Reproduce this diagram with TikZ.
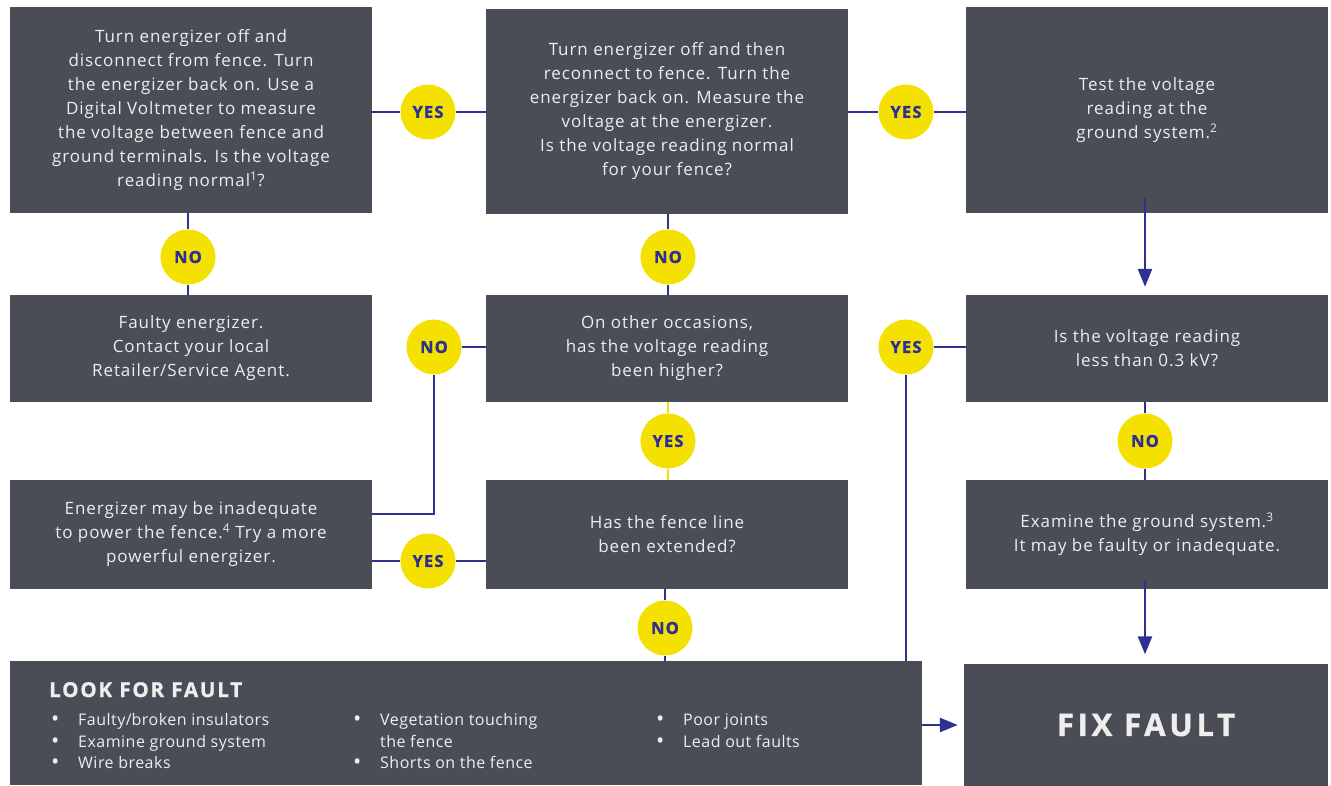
\documentclass[tikz,border=0pt]{standalone}
\usepackage{fontspec}
\setmainfont{Open Sans}
\newfontfamily\spaced[LetterSpace=5.5]{Open Sans}
\newfontfamily\lspaced[LetterSpace=3]{Open Sans}
\newfontfamily\headfont[LetterSpace=9,FakeBold=1.2]{Open Sans}
\newfontfamily\fixfont[LetterSpace=12,FakeBold=1.3]{Open Sans}
\newfontfamily\badgefont[LetterSpace=7,FakeBold=1.3]{Open Sans}
\usetikzlibrary{arrows.meta}
\definecolor{boxgray}{HTML}{4A4D55}
\definecolor{ylw}{HTML}{F5E100}
\definecolor{navy}{HTML}{2E3192}
\definecolor{txt}{HTML}{EEEEEE}
\begin{document}
\begin{tikzpicture}[x=1pt,y=-1pt,
 box/.style={fill=boxgray, text=txt, minimum width=362pt, inner sep=0pt, align=center, font=\spaced\fontsize{17}{24}\selectfont},
 badge/.style={circle, fill=ylw, minimum size=55pt, inner sep=0pt, text=navy, font=\badgefont\fontsize{16.5}{16}\bfseries\selectfont},
 link/.style={draw=navy, line width=2.6pt},
 ylink/.style={draw=ylw, line width=2.6pt},
 arr/.style={link, -{Triangle[width=14pt,length=18pt]}},
 item/.style={anchor=base west, text=txt, inner sep=0pt, font=\lspaced\fontsize{16}{20}\selectfont},
]
\useasboundingbox (0,0) rectangle (1331,786);
% boxes
\node[box, minimum height=206pt] (A) at (191,110) {Turn energizer off and\\disconnect from fence. Turn\\the energizer back on. Use a\\Digital Voltmeter to measure\\the voltage between fence and\\ground terminals. Is the voltage\\reading normal\textsuperscript{1}?};
\node[box, minimum height=205pt] (B) at (667,111.5) {Turn energizer off and then\\reconnect to fence. Turn the\\energizer back on. Measure the\\voltage at the energizer.\\Is the voltage reading normal\\for your fence?};
\node[box, minimum height=206pt] (C) at (1147,110) {Test the voltage\\reading at the\\ground system.\textsuperscript{2}};
\node[box, minimum height=107pt] (D) at (191,348.5) {Faulty energizer.\\Contact your local\\Retailer/Service Agent.};
\node[box, minimum height=107pt] (E) at (667,348.5) {On other occasions,\\has the voltage reading\\been higher?};
\node[box, minimum height=107pt] (F) at (1147,348.5) {Is the voltage reading\\less than 0.3 kV?};
\node[box, minimum height=109pt] (G) at (191,534.5) {Energizer may be inadequate\\to power the fence.\textsuperscript{4} Try a more\\powerful energizer.};
\node[box, minimum height=109pt] (H) at (667,534.5) {Has the fence line\\been extended?};
\node[box, minimum height=109pt] (I) at (1147,534.5) {Examine the ground system.\textsuperscript{3}\\It may be faulty or inadequate.};
\node[box, minimum width=912pt, minimum height=124pt] (J) at (466,723) {};
\node[box, minimum width=364pt, minimum height=123pt, font=\fixfont\fontsize{31}{36}\bfseries\selectfont] (K) at (1146,725) {FIX FAULT};
% list in J
\node[item, font=\headfont\fontsize{20.5}{22}\bfseries\selectfont] (jh) at (49,697) {LOOK FOR FAULT};
\foreach \bx/\by/\t [count=\i] in {53/725/Faulty\slash broken insulators, 53/747/Examine ground system, 53/768/Wire breaks, 355/725/Vegetation touching, 355/768/Shorts on the fence, 658/725/Poor joints, 658/747/Lead out faults}{
  \node[item, font=\fontsize{22}{20}\selectfont] (jb\i) at (\bx-2,\by+1) {\textbullet};
  \node[item] (jt\i) at (\bx+25,\by) {\t};
}
\node[item] (jt8) at (380,747) {the fence};
% badges
\node[badge] (yA) at (428,112) {YES};
\node[badge] (yB) at (906,112) {YES};
\node[badge] (nA) at (188,257) {NO};
\node[badge] (nB) at (668,257) {NO};
\node[badge] (nE) at (434,347) {NO};
\node[badge] (yF) at (906,347) {YES};
\node[badge] (yE) at (668,441) {YES};
\node[badge] (nF) at (1145,441) {NO};
\node[badge] (yH) at (428,561) {YES};
\node[badge] (nH) at (665,628) {NO};
% connectors
\draw[link] (A.east|-yA) -- (yA.west);
\draw[link] (yA.east) -- (B.west|-yA);
\draw[link] (B.east|-yB) -- (yB.west);
\draw[link] (yB.east) -- (C.west|-yB);
\draw[link] (nA|-A.south) -- (nA.north);
\draw[link] (nA.south) -- (nA|-D.north);
\draw[link] (nB|-B.south) -- (nB.north);
\draw[link] (nB.south) -- (nB|-E.north);
\draw[link] (E.west|-nE) -- (nE.east);
\draw[link] (nE.south) |- ([yshift=20.5pt]G.east);
\draw[ylink] (yE|-E.south) -- (yE.north);
\draw[ylink] (yE.south) -- (yE|-H.north);
\draw[link] (H.west|-yH) -- (yH.east);
\draw[link] (yH.west) -- (G.east|-yH);
\draw[link] (nH|-H.south) -- (nH.north);
\draw[link] (nH.south) -- (nH|-J.north);
\draw[arr] ([yshift=15pt]C.south-|nF) -- ([yshift=8pt]F.north-|nF);
\draw[link] (F.west|-yF) -- (yF.east);
\draw[link] (yF.south) -- (yF|-J.north);
\draw[link] (nF|-F.south) -- (nF.north);
\draw[link] (nF.south) -- (nF|-I.north);
\draw[arr] ([yshift=9pt]I.south-|nF) -- ([yshift=9pt]K.north-|nF);
\draw[arr] (J.east|-K) -- ([xshift=-6pt]K.west);
\end{tikzpicture}
\end{document}
